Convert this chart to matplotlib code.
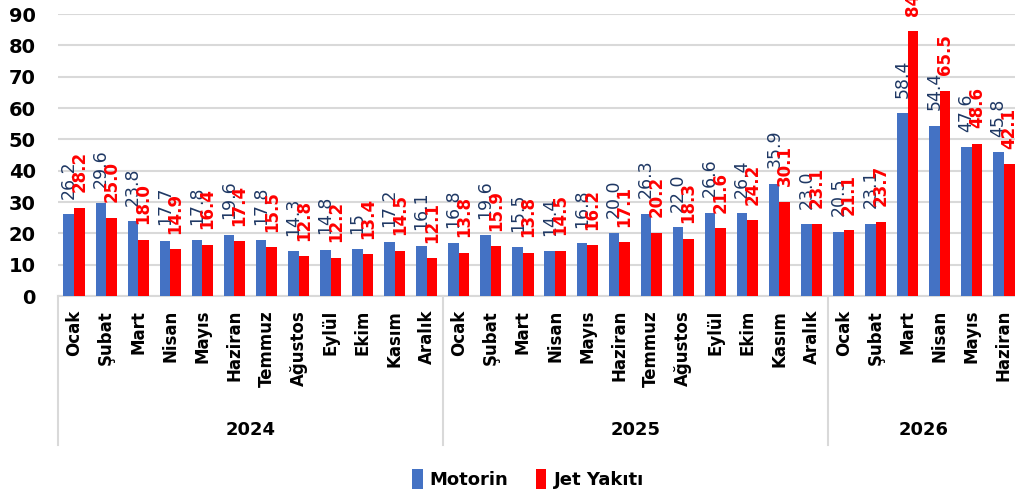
import matplotlib.pyplot as plt
import matplotlib.transforms as mtransforms
import numpy as np

# data
months = ["Ocak", "Şubat", "Mart", "Nisan", "Mayıs", "Haziran", "Temmuz",
          "Ağustos", "Eylül", "Ekim", "Kasım", "Aralık"]
years = ["2024", "2025", "2026"]
months_per_year = [12, 12, 6]

motorin = [26.2, 29.6, 23.8, 17.7, 17.8, 19.6, 17.8, 14.3, 14.8, 15, 17.2, 16.1,
           16.8, 19.6, 15.5, 14.4, 16.8, 20.0, 26.3, 22.0, 26.6, 26.4, 35.9, 23.0,
           20.5, 23.1, 58.4, 54.4, 47.6, 45.8]
jet = [28.2, 25.0, 18.0, 14.9, 16.4, 17.4, 15.5, 12.8, 12.2, 13.4, 14.5, 12.1,
       13.8, 15.9, 13.8, 14.5, 16.2, 17.1, 20.2, 18.3, 21.6, 24.2, 30.1, 23.1,
       21.1, 23.7, 84.6, 65.5, 48.6, 42.1]

labels = []
for n in months_per_year:
    labels += months[:n]

blue = "#4472C4"
red = "#FF0000"
navy = "#1F3864"
grid = "#D9D9D9"

fig = plt.figure(figsize=(10.15, 4.94), dpi=100)
ax = fig.add_axes([58 / 1015, 1 - 296 / 494, 962 / 1015, 282 / 494])

x = np.arange(len(labels))
w = 0.33
ax.bar(x - w / 2, motorin, w, color=blue, label="Motorin", zorder=3)
ax.bar(x + w / 2, jet, w, color=red, label="Jet Yakıtı", zorder=3)

def fmt(v):
    return f"{v:.1f}" if isinstance(v, float) else str(v)

for xi, v in zip(x, motorin):
    ax.annotate(fmt(v), (xi - w / 2, v), xytext=(0, 11), textcoords="offset points",
                rotation=90, ha="center", va="bottom", fontsize=12.5,
                color=navy, fontweight="medium", annotation_clip=False, zorder=4)
for xi, v in zip(x, jet):
    ax.annotate(fmt(v), (xi + w / 2, v), xytext=(0, 11), textcoords="offset points",
                rotation=90, ha="center", va="bottom", fontsize=12,
                color=red, fontweight="bold", annotation_clip=False, zorder=4)

ax.set_xlim(-0.5, len(labels) - 0.5)
ax.set_ylim(0, 90)
ax.set_yticks(range(0, 91, 10))
ax.tick_params(axis="y", length=0, pad=16, labelsize=14)
for t in ax.get_yticklabels():
    t.set_fontweight("bold")
ax.set_xticks(x)
ax.set_xticklabels(labels, rotation=90, fontsize=12, fontweight="bold", va="top")
ax.tick_params(axis="x", length=0, pad=10)
ax.yaxis.grid(True, color=grid, linewidth=1.5, zorder=0)
for s in ["top", "right", "left"]:
    ax.spines[s].set_visible(False)
ax.spines["bottom"].set_color(grid)
ax.spines["bottom"].set_linewidth(1.5)

# year groups
trans = mtransforms.blended_transform_factory(ax.transData, ax.transAxes)
start = 0
bounds = [-0.5]
for yr, n in zip(years, months_per_year):
    mid = start + (n - 1) / 2
    ax.text(mid, -0.475, yr, transform=trans, ha="center", va="center",
            fontsize=13, fontweight="bold")
    start += n
    bounds.append(start - 0.5)
for bx in bounds[:-1]:
    ax.plot([bx, bx], [0, -0.53], transform=trans, color=grid, linewidth=1.5,
            clip_on=False)

fig.legend(loc="center", bbox_to_anchor=(0.52, 0.03), ncol=2, frameon=False,
           handlelength=0.6, handleheight=1.3, handletextpad=0.4, columnspacing=1.5,
           prop={"weight": "bold", "size": 13})

fig.savefig("out.png", dpi=100)
